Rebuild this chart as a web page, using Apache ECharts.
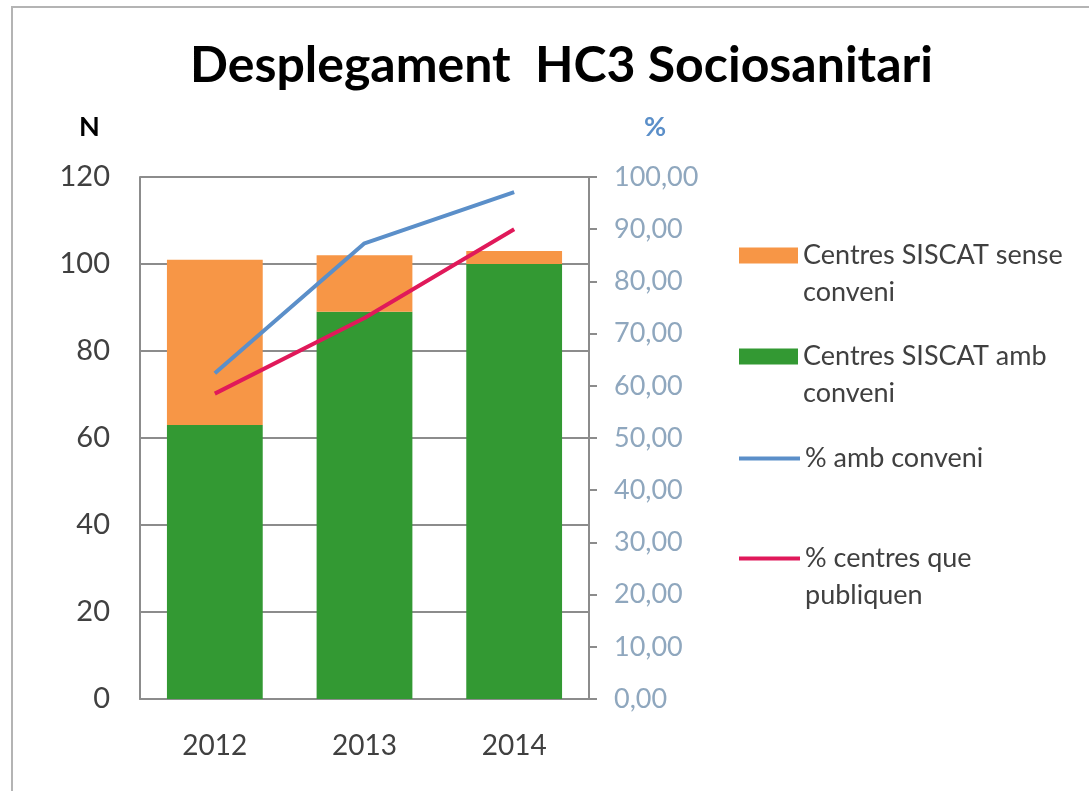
<!DOCTYPE html>
<html>
<head>
<meta charset="utf-8">
<title>Desplegament HC3 Sociosanitari</title>
<script src="https://cdn.jsdelivr.net/npm/echarts@6/dist/echarts.min.js"></script>
<style>
  html, body { margin: 0; padding: 0; background: #fff; }
  #frame { position: absolute; left: 11px; top: 6px; width: 1100px; height: 800px;
           border-top: 2px solid #b4b4b4; border-left: 2px solid #b4b4b4; }
  #main { position: absolute; left: 0; top: 0; width: 1089px; height: 791px; }
</style>
</head>
<body>
<div id="frame"></div>
<div id="main"></div>
<script>
// dades llegides del gràfic
var anys = ['2012', '2013', '2014'];
var ambConveni = [63, 89, 100];        // Centres SISCAT amb conveni
var senseConveni = [38, 13, 3];        // Centres SISCAT sense conveni
var pctAmbConveni = [62.4, 87.3, 97.1];
var pctPubliquen = [58.5, 73.0, 90.0];

var FONT = 'Lato';
var GRIS = '#8c8c8c';
var TEXT = '#404040';

var myChart = echarts.init(document.getElementById('main'));

// llegenda: un component per element per poder situar-los.
// la línia buida de dalt fa que la icona quedi a l'altura de la primera línia
function llegenda(nom, top, lineIcon, dosLinies) {
    return {
        data: [nom],
        left: 739,
        top: top,
        padding: 0,
        orient: 'vertical',
        icon: 'rect',
        itemWidth: lineIcon ? 61 : 59,
        itemHeight: lineIcon ? 4 : 16,
        itemGap: 0,
        selectedMode: false,
        formatter: function (n) { return dosLinies ? ' \n' + n : n; },
        textStyle: { fontFamily: FONT, fontSize: 27, color: TEXT, lineHeight: 37 }
    };
}

var option = {
    animation: false,
    backgroundColor: 'transparent',
    title: {
        text: 'Desplegament  HC3 Sociosanitari',
        left: 185,
        top: 36,
        textStyle: { fontFamily: FONT, fontSize: 50, fontWeight: 'bold', color: '#000' }
    },
    legend: [
        llegenda('Centres SISCAT sense\nconveni', 200, false, true),
        llegenda('Centres SISCAT amb\nconveni', 301, false, true),
        llegenda('% amb conveni', 440, true, false),
        llegenda('% centres que\npubliquen', 503, true, true)
    ],
    graphic: [
        { type: 'text', left: 79, top: 114,
          style: { text: 'N', font: 'bold 27px ' + FONT, fill: '#000' } },
        { type: 'text', left: 644, top: 114,
          style: { text: '%', font: 'bold 27px ' + FONT, fill: '#5b8fc9' } }
    ],
    grid: { left: 140, right: 500, top: 177, bottom: 92 },
    xAxis: {
        type: 'category',
        data: anys,
        axisLine: { lineStyle: { color: GRIS, width: 2 } },
        axisTick: { show: false },
        axisLabel: { fontFamily: FONT, fontSize: 28, color: TEXT, margin: 33 }
    },
    yAxis: [{
        type: 'value',
        min: 0, max: 120, interval: 20,
        axisLine: { show: true, lineStyle: { color: GRIS, width: 2 } },
        axisTick: { show: false },
        splitLine: { lineStyle: { color: GRIS, width: 2 } },
        axisLabel: { fontFamily: FONT, fontSize: 29, color: TEXT, margin: 30 }
    }, {
        type: 'value',
        min: 0, max: 100, interval: 10,
        position: 'right',
        axisLine: { show: true, lineStyle: { color: GRIS, width: 2 } },
        axisTick: { show: true, length: 8, lineStyle: { color: GRIS, width: 2 } },
        splitLine: { show: false },
        axisLabel: {
            fontFamily: FONT, fontSize: 27, color: '#8fa7be', margin: 25,
            formatter: function (v) { return v.toFixed(2).replace('.', ','); }
        }
    }],
    series: [{
        name: 'Centres SISCAT amb\nconveni',
        type: 'bar',
        stack: 'n',
        barWidth: '64%',
        itemStyle: { color: '#339933' },
        data: ambConveni
    }, {
        name: 'Centres SISCAT sense\nconveni',
        type: 'bar',
        stack: 'n',
        itemStyle: { color: '#f79646' },
        data: senseConveni
    }, {
        name: '% amb conveni',
        type: 'line',
        yAxisIndex: 1,
        symbol: 'none',
        lineStyle: { color: '#5b8fc9', width: 4 },
        itemStyle: { color: '#5b8fc9' },
        data: pctAmbConveni
    }, {
        name: '% centres que\npubliquen',
        type: 'line',
        yAxisIndex: 1,
        symbol: 'none',
        lineStyle: { color: '#e0195a', width: 4 },
        itemStyle: { color: '#e0195a' },
        data: pctPubliquen
    }]
};

myChart.setOption(option);
</script>
</body>
</html>
